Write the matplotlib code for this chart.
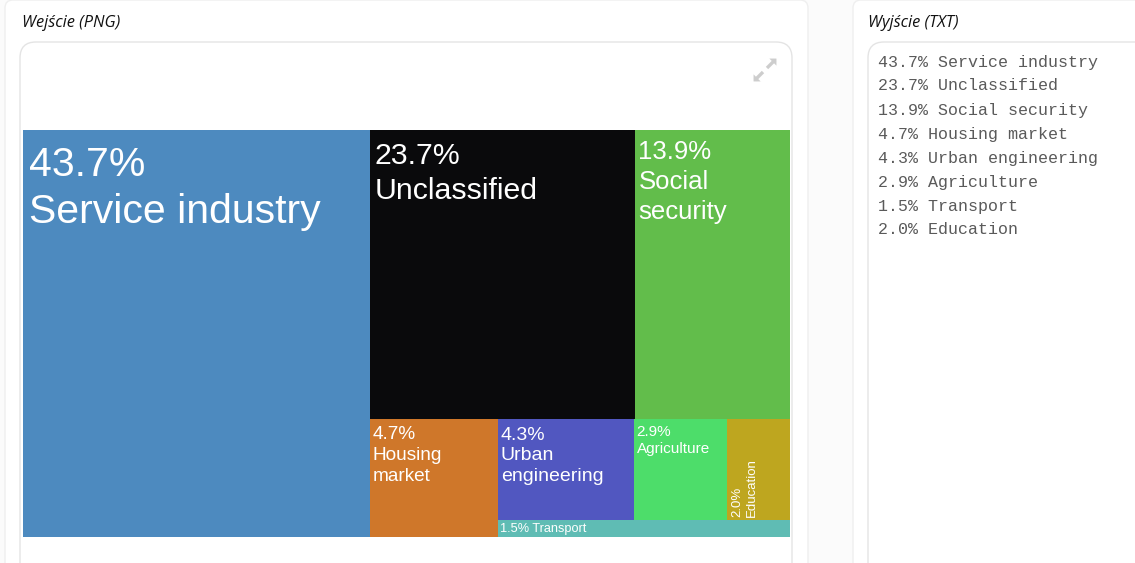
import matplotlib.pyplot as plt
from matplotlib.patches import Rectangle, FancyBboxPatch, Polygon

# dane treemapy (kolejnosc jak w wyjsciu TXT)
names = ["Service industry", "Unclassified", "Social security", "Housing market",
         "Urban engineering", "Agriculture", "Transport", "Education"]
shares = [43.7, 23.7, 13.9, 4.7, 4.3, 2.9, 1.5, 2.0]
box_labels = ["43.7%\nService industry", "23.7%\nUnclassified", "13.9%\nSocial\nsecurity",
              "4.7%\nHousing\nmarket", "4.3%\nUrban\nengineering", "2.9%\nAgriculture",
              "1.5% Transport", "2.0%\nEducation"]
box_colors = ["#4d8abf", "#0a0a0c", "#62bd4b", "#cf772a",
              "#5157c0", "#4ddd6a", "#5fbcb4", "#bea61f"]
font_sizes = [29.5, 21.8, 18.5, 13.7, 14, 11, 9.2, 9.5]

# uklad: "h" = obok siebie, "v" = jeden pod drugim
LAYOUT = ("h", [0, ("v", [("h", [1, 2]), ("h", [3, ("v", [("h", [4, 5, 7]), 6])])])])

W, H = 1135, 563
TM = (23, 130, 767, 407)  # x, y, szer, wys w pikselach


def weight(node):
    if isinstance(node, int):
        return shares[node]
    return sum(weight(c) for c in node[1])


def layout(node, x, y, w, h, out):
    if isinstance(node, int):
        out[node] = (x, y, w, h)
        return
    direction, children = node
    total = weight(node)
    for c in children:
        f = weight(c) / total
        if direction == "h":
            layout(c, x, y, w * f, h, out)
            x += w * f
        else:
            layout(c, x, y, w, h * f, out)
            y += h * f


fig = plt.figure(figsize=(W / 100, H / 100), dpi=100)
fig.patch.set_facecolor("#fbfbfb")

# tlo strony
bg = fig.add_axes([0, 0, 1, 1])
bg.set_xlim(0, W)
bg.set_ylim(H, 0)
bg.axis("off")

for x0, x1 in [(5, 808), (853, 1150)]:
    bg.add_patch(FancyBboxPatch((x0, 0), x1 - x0, 600, boxstyle="round,pad=0,rounding_size=8",
                                facecolor="white", edgecolor="#efefef", lw=1))
for x0, x1 in [(20, 792), (868, 1160)]:
    bg.add_patch(FancyBboxPatch((x0, 42), x1 - x0, 600, boxstyle="round,pad=0,rounding_size=16",
                                facecolor="white", edgecolor="#e4e4e4", lw=1))

bg.text(22, 23, "Wejście (PNG)", fontsize=11.8, style="italic", family="Open Sans",
        color="#111111", va="center")
bg.text(868, 23, "Wyjście (TXT)", fontsize=11.8, style="italic", family="Open Sans",
        color="#111111", va="center")

# ikona rozwiniecia
icon = "#cdcdcd"
bg.add_patch(Polygon([(777, 58), (768, 58), (777, 67)], closed=True, facecolor=icon,
                     edgecolor="white", lw=0.8))
bg.add_patch(Polygon([(753, 82), (762, 82), (753, 73)], closed=True, facecolor=icon,
                     edgecolor="white", lw=0.8))
bg.plot([775, 767], [60, 68], color=icon, lw=2.4, solid_capstyle="butt")
bg.plot([755, 763], [80, 72], color=icon, lw=2.4, solid_capstyle="butt")

# wyjscie tekstowe
for i, (s, n) in enumerate(zip(shares, names)):
    bg.text(878, 62 + 24 * i, f"{s:.1f}% {n}", family="Liberation Mono", fontsize=12,
            color="#5a5a5a", va="center")

# treemapa
ax = fig.add_axes([TM[0] / W, (H - TM[1] - TM[3]) / H, TM[2] / W, TM[3] / H])
ax.set_xlim(0, 1)
ax.set_ylim(1, 0)
ax.axis("off")

rects = {}
layout(LAYOUT, 0, 0, 1, 1, rects)
px, py = 1 / TM[2], 1 / TM[3]

for i in range(len(shares)):
    x, y, w, h = rects[i]
    ax.add_patch(Rectangle((x, y), w, h, facecolor=box_colors[i], edgecolor="none"))
    em = font_sizes[i] * 100 / 72
    if names[i] == "Education":
        ax.text(x + 5 * px, y + h - 3 * py, box_labels[i], rotation=90, ha="left", va="bottom",
                fontsize=font_sizes[i], color="white", family="Liberation Sans",
                linespacing=1.3)
    elif names[i] == "Transport":
        ax.text(x + 2 * px, y + h / 2, box_labels[i], ha="left", va="center",
                fontsize=font_sizes[i], color="white", family="Liberation Sans")
    else:
        ax.text(x + 0.15 * em * px, y + 0.4 * em * py, box_labels[i], ha="left", va="top",
                fontsize=font_sizes[i], color="white", family="Liberation Sans",
                linespacing=1.3)

fig.savefig("out.png", dpi=100, facecolor=fig.get_facecolor())
